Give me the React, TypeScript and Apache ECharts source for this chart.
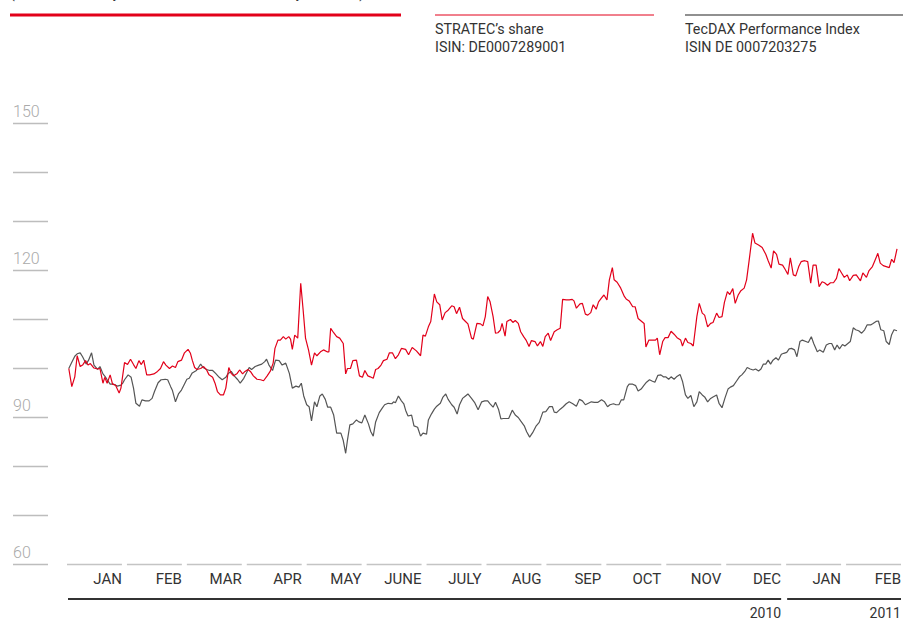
import React, { useEffect, useRef } from 'react';
import * as echarts from 'echarts';

const monthLabels = ['JAN', 'FEB', 'MAR', 'APR', 'MAY', 'JUNE', 'JULY', 'AUG', 'SEP', 'OCT', 'NOV', 'DEC', 'JAN', 'FEB'];
const yearSpans = [
  { label: '2010', from: 0, to: 12 },
  { label: '2011', from: 12, to: 14 },
];
const yTickValues = [60, 70, 80, 90, 100, 110, 120, 130, 140, 150];
const yLabelValues = [150, 120, 90, 60];
const titleText = '(indexed, January 1, 2010 = 100; as of February 28, 2011)';
const legendStratec = ['STRATEC\u2019s share', 'ISIN: DE0007289001'];
const legendTecdax = ['TecDAX Performance Index', 'ISIN DE 0007203275'];

// [month position since Jan 1 2010, index value]
const stratec: [number, number][] = [
  [0.03, 100], [0.08, 96.3], [0.13, 98.3], [0.17, 102.6], [0.22, 100.4], [0.26, 100.7], [0.31, 101.6], [0.35, 100.7], [0.39, 101.0], [0.45, 100.1],
  [0.51, 99.9], [0.55, 100], [0.6, 97], [0.63, 98.2], [0.67, 97], [0.72, 98.7], [0.76, 96.8], [0.81, 96.6], [0.87, 95], [0.9, 96],
  [0.96, 101.2], [1.01, 100.8], [1.06, 101.9], [1.11, 100.8], [1.15, 100], [1.2, 101.6], [1.24, 100.8], [1.28, 101.7], [1.33, 98.7], [1.38, 98.7],
  [1.45, 98.9], [1.51, 99.4], [1.56, 100], [1.61, 101.4], [1.65, 100.7], [1.71, 100], [1.76, 100.5], [1.81, 100.2], [1.85, 101.4], [1.91, 101.7],
  [1.96, 103.2], [2.02, 103.9], [2.06, 103.1], [2.09, 101.7], [2.13, 100.2], [2.17, 99.8], [2.23, 100], [2.28, 100.4], [2.33, 99.7], [2.37, 98.7],
  [2.43, 98.2], [2.47, 97], [2.51, 95.3], [2.56, 94.6], [2.61, 94.6], [2.65, 96], [2.7, 100.2], [2.74, 99], [2.78, 98.5], [2.84, 99],
  [2.88, 99.7], [2.93, 98.9], [2.97, 99.4], [3.02, 99.8], [3.06, 99.4], [3.11, 98.5], [3.17, 97.8], [3.23, 97.7], [3.28, 97.5], [3.34, 98.5],
  [3.39, 99.4], [3.44, 101.1], [3.47, 104.1], [3.52, 105.8], [3.56, 105.8], [3.61, 106.5], [3.65, 106], [3.7, 106.5], [3.73, 106], [3.76, 103.9],
  [3.8, 106.8], [3.85, 106.2], [3.9, 117.4], [3.94, 112], [3.98, 106.2], [4.03, 103.8], [4.08, 100.7], [4.13, 103.2], [4.17, 102.6], [4.23, 103.4],
  [4.28, 103.8], [4.34, 103.4], [4.37, 103.4], [4.4, 108.2], [4.45, 107.3], [4.5, 106.5], [4.55, 106.2], [4.61, 105.1], [4.65, 98.9], [4.68, 100],
  [4.73, 100], [4.77, 101.6], [4.83, 101.7], [4.88, 98.5], [4.93, 98.2], [4.97, 99.6], [5.02, 98.5], [5.06, 98.3], [5.11, 98], [5.15, 99.8],
  [5.19, 100], [5.24, 100.7], [5.28, 101.6], [5.34, 101.9], [5.38, 103.2], [5.43, 103.2], [5.48, 102], [5.53, 102.8], [5.58, 104.1], [5.65, 103.9],
  [5.7, 102.8], [5.76, 104.3], [5.83, 103.6], [5.9, 102.6], [5.94, 106.8], [5.98, 106.6], [6.03, 108.5], [6.07, 109.6], [6.13, 115.2], [6.17, 113.6],
  [6.22, 113], [6.26, 109.9], [6.31, 111.4], [6.36, 111.9], [6.42, 112.8], [6.46, 112.6], [6.5, 111.2], [6.55, 112.5], [6.6, 110.2], [6.65, 109.6],
  [6.69, 109.1], [6.75, 106.2], [6.78, 106], [6.84, 109.2], [6.9, 109.1], [6.94, 108.7], [6.98, 110.6], [7.02, 114.7], [7.06, 113.6], [7.11, 110.6],
  [7.15, 107.2], [7.19, 107.3], [7.23, 107.8], [7.26, 109.2], [7.31, 106.6], [7.34, 109.6], [7.4, 110], [7.44, 109.4], [7.48, 109.8], [7.53, 109.2],
  [7.57, 107.5], [7.62, 106.5], [7.66, 105.8], [7.71, 104.5], [7.75, 105.7], [7.81, 105.5], [7.85, 104.6], [7.9, 105.5], [7.94, 104.5], [7.98, 106.5],
  [8.03, 107.2], [8.07, 105.7], [8.13, 107.5], [8.18, 107.9], [8.23, 108.2], [8.27, 114.1], [8.33, 114], [8.38, 114], [8.43, 114.1], [8.46, 113.8],
  [8.5, 112.3], [8.56, 113.2], [8.6, 113.3], [8.65, 111.1], [8.69, 110.9], [8.74, 111.4], [8.78, 113], [8.83, 112.1], [8.87, 113.6], [8.92, 114.4],
  [8.96, 115], [9.01, 114], [9.05, 118.1], [9.1, 120.6], [9.13, 118.1], [9.18, 117.6], [9.24, 116.4], [9.3, 114.7], [9.33, 114.2], [9.38, 113.8],
  [9.44, 112.6], [9.48, 112.6], [9.53, 110.2], [9.58, 109.7], [9.63, 109.2], [9.66, 104.4], [9.71, 105.8], [9.76, 105.8], [9.82, 105.8], [9.85, 106.2],
  [9.89, 102.8], [9.94, 105.5], [9.98, 106.3], [10.03, 106.3], [10.08, 107.6], [10.13, 107], [10.18, 106.3], [10.24, 105.8], [10.27, 104.6], [10.32, 106.2],
  [10.36, 105.3], [10.41, 105.1], [10.45, 104.6], [10.51, 110.6], [10.55, 113.3], [10.6, 111.3], [10.64, 110.9], [10.69, 108.5], [10.74, 109.2], [10.78, 109.4],
  [10.84, 111.3], [10.88, 110.4], [10.93, 110.6], [10.97, 113.5], [11.02, 115.7], [11.06, 115.1], [11.11, 116.3], [11.15, 113.3], [11.2, 115], [11.24, 115.8],
  [11.3, 116.4], [11.34, 118.1], [11.38, 121.8], [11.44, 127.6], [11.48, 125.6], [11.54, 125.2], [11.6, 124.7], [11.66, 123.3], [11.7, 122], [11.75, 120.5],
  [11.79, 124], [11.84, 123.3], [11.88, 121.3], [11.94, 121.1], [11.98, 120.3], [12.03, 119.2], [12.07, 122.6], [12.12, 119.1], [12.16, 118.9], [12.21, 120.8],
  [12.25, 121.8], [12.31, 122], [12.36, 121.8], [12.41, 117.4], [12.45, 121.1], [12.5, 121.1], [12.55, 116.7], [12.6, 117.7], [12.64, 117.5], [12.69, 117],
  [12.74, 117.5], [12.79, 117.5], [12.84, 118.4], [12.88, 120.4], [12.93, 119.4], [12.97, 118.6], [13.02, 119.1], [13.06, 117.9], [13.12, 119], [13.17, 119.1],
  [13.24, 117.9], [13.28, 119.5], [13.34, 118.6], [13.38, 119.9], [13.44, 120.8], [13.48, 122], [13.53, 123.5], [13.57, 121.5], [13.62, 121], [13.67, 120.8],
  [13.72, 120.6], [13.76, 122.3], [13.8, 121.6], [13.85, 124.4],
];

const tecdax: [number, number][] = [
  [0.03, 100], [0.07, 101], [0.13, 102.5], [0.17, 103], [0.22, 103.2], [0.26, 102.4], [0.32, 100.9], [0.36, 101.7], [0.41, 103.2], [0.45, 100.7],
  [0.51, 99.8], [0.55, 100.4], [0.6, 98.9], [0.64, 98.3], [0.67, 97.7], [0.72, 96.8], [0.78, 96.8], [0.84, 96.4], [0.9, 96.6], [0.93, 97],
  [0.96, 97.7], [1.02, 98.7], [1.07, 98.2], [1.11, 96], [1.15, 92.9], [1.21, 92.3], [1.25, 93.6], [1.31, 93.4], [1.37, 93.4], [1.42, 93.9],
  [1.46, 95.3], [1.52, 97.1], [1.57, 97.7], [1.64, 97.8], [1.68, 97.7], [1.73, 96.3], [1.76, 95.5], [1.81, 93.2], [1.86, 94.8], [1.91, 95.6],
  [1.95, 96.6], [2.0, 97.8], [2.04, 98], [2.09, 99.1], [2.16, 99.6], [2.23, 100.9], [2.27, 100.2], [2.33, 99.8], [2.38, 99.6], [2.43, 99.6],
  [2.48, 99], [2.54, 98.2], [2.59, 97.7], [2.65, 98.2], [2.69, 99], [2.74, 99.4], [2.79, 98.5], [2.85, 97.7], [2.89, 97], [2.95, 98],
  [2.99, 99], [3.04, 100.2], [3.08, 99.8], [3.14, 100.4], [3.2, 100.7], [3.25, 100.9], [3.3, 101.4], [3.33, 101.9], [3.37, 100.7], [3.43, 99.6],
  [3.48, 101.7], [3.54, 101.6], [3.59, 100.7], [3.65, 101.1], [3.71, 99], [3.76, 96], [3.82, 96.4], [3.87, 96.2], [3.91, 97], [3.95, 94.4],
  [4.0, 92.6], [4.04, 92.2], [4.08, 89.3], [4.13, 93.2], [4.17, 92.2], [4.22, 94.4], [4.26, 94.8], [4.31, 93.7], [4.35, 92.1], [4.4, 92.1],
  [4.45, 90.5], [4.5, 86.8], [4.57, 86.8], [4.61, 85.3], [4.65, 82.7], [4.68, 85.4], [4.72, 88.5], [4.77, 88.7], [4.83, 89.5], [4.87, 89.1],
  [4.92, 88.9], [4.97, 90.5], [5.03, 88.7], [5.07, 87.1], [5.11, 86.2], [5.15, 89.1], [5.21, 91], [5.26, 91.9], [5.3, 92.6], [5.36, 92.9],
  [5.42, 92.8], [5.45, 93.2], [5.48, 93], [5.53, 94.4], [5.58, 93.4], [5.62, 92.8], [5.65, 91.5], [5.69, 90.3], [5.75, 90.5], [5.79, 88.3],
  [5.85, 88], [5.9, 86.2], [5.94, 86.8], [6.0, 86.6], [6.03, 89.5], [6.08, 90.7], [6.13, 91.7], [6.17, 92.3], [6.23, 92.9], [6.27, 94.1],
  [6.32, 94.8], [6.36, 93.7], [6.42, 92.6], [6.46, 92.1], [6.51, 90.7], [6.55, 92.6], [6.6, 93.9], [6.65, 94.4], [6.69, 94.8], [6.75, 93.9],
  [6.8, 93.1], [6.86, 91.6], [6.92, 93.2], [6.97, 93.4], [7.02, 93.4], [7.06, 92.8], [7.11, 92.1], [7.15, 93.1], [7.2, 91.7], [7.24, 89.7],
  [7.28, 89.8], [7.33, 89.8], [7.37, 89.8], [7.43, 91.5], [7.48, 90.5], [7.53, 90], [7.57, 89.3], [7.63, 88.3], [7.67, 87.1], [7.72, 86],
  [7.77, 86.9], [7.83, 88.3], [7.88, 89], [7.94, 91.1], [7.99, 91.2], [8.05, 92.2], [8.1, 92.2], [8.13, 91.1], [8.17, 91], [8.23, 91.7],
  [8.28, 92.2], [8.33, 92.8], [8.38, 93.2], [8.44, 92.8], [8.5, 92.3], [8.55, 93.7], [8.6, 93.4], [8.65, 92.6], [8.7, 92.9], [8.75, 93.2],
  [8.8, 93.1], [8.86, 93.1], [8.92, 93.6], [8.97, 93.2], [9.02, 92.2], [9.06, 92.6], [9.12, 92.8], [9.16, 92.6], [9.21, 92.6], [9.25, 93.6],
  [9.29, 93.6], [9.35, 96.3], [9.38, 96.8], [9.44, 96.8], [9.49, 96.5], [9.53, 95.4], [9.58, 95.8], [9.63, 96.6], [9.67, 97.2], [9.72, 97.7],
  [9.77, 97.4], [9.81, 97.2], [9.86, 98.6], [9.91, 98.7], [9.95, 98.3], [9.99, 98.3], [10.04, 97.8], [10.08, 98.3], [10.13, 97.8], [10.17, 98.3],
  [10.23, 98.8], [10.27, 97.4], [10.32, 94.6], [10.36, 93.9], [10.41, 94.5], [10.46, 92.2], [10.51, 93.2], [10.55, 95.3], [10.6, 94.6], [10.64, 94.2],
  [10.69, 93.2], [10.74, 93.9], [10.78, 94.2], [10.84, 94.6], [10.88, 92.9], [10.93, 92], [10.98, 94], [11.03, 95.8], [11.07, 96.2], [11.12, 96.5],
  [11.17, 97.4], [11.22, 98.3], [11.26, 98.7], [11.31, 99.4], [11.35, 100.2], [11.4, 99.9], [11.45, 99.7], [11.49, 99.9], [11.54, 99.5], [11.58, 99.9],
  [11.62, 100.9], [11.66, 100.9], [11.7, 101.7], [11.74, 100.9], [11.78, 101.7], [11.83, 102.2], [11.87, 101.7], [11.92, 102.9], [11.96, 103.1], [12.01, 103.3],
  [12.05, 104], [12.09, 104.1], [12.14, 103.8], [12.18, 102.4], [12.23, 105.5], [12.27, 105.8], [12.33, 105.5], [12.37, 105.3], [12.42, 106.5], [12.46, 105.1],
  [12.52, 103.4], [12.56, 103.8], [12.62, 103.3], [12.67, 104.8], [12.72, 105.1], [12.76, 105.1], [12.81, 103.8], [12.85, 104.8], [12.89, 104], [12.94, 104.9],
  [12.98, 104.6], [13.03, 105.1], [13.07, 105.5], [13.12, 108.3], [13.16, 107.9], [13.21, 107.7], [13.26, 107.2], [13.31, 107.9], [13.35, 108.9], [13.41, 108.9],
  [13.45, 109.2], [13.5, 109.6], [13.54, 109.7], [13.58, 107.9], [13.63, 107.7], [13.67, 105.5], [13.72, 104.9], [13.76, 106.9], [13.8, 107.9], [13.85, 107.7],
];

const RED = '#e2001a';
const DARK = '#555555';
const FONT = 'Roboto, "Noto Sans", sans-serif';

export default function App() {
  const ref = useRef<HTMLDivElement>(null);

  useEffect(() => {
    if (!ref.current) return;
    const chart = echarts.init(ref.current, undefined, { renderer: 'svg' });

    const option: any = {
      animation: false,
      backgroundColor: '#ffffff',
      textStyle: { fontFamily: FONT },
      grid: { left: 67, right: 0, top: 123.5, bottom: 56.5, containLabel: false },
      xAxis: {
        type: 'value',
        min: 0,
        max: 14,
        interval: 1,
        axisLine: { show: false },
        axisTick: { show: false },
        axisLabel: { show: false },
        splitLine: { show: false },
      },
      yAxis: {
        type: 'value',
        min: 60,
        max: 150,
        interval: 10,
        offset: 19,
        axisLine: { show: false },
        splitLine: { show: false },
        axisTick: { show: false },
        axisLabel: {
          show: true,
          margin: 35,
          align: 'left',
          verticalAlign: 'bottom',
          padding: [0, 0, 4, 0],
          color: '#aaaaaa',
          fontSize: 16,
          fontWeight: 300,
          fontFamily: FONT,
          formatter: (v: number) => (yLabelValues.includes(v) ? String(v) : ''),
        },
      },
      graphic: [
        {
          type: 'text',
          left: 10,
          top: -14.5,
          style: { text: titleText, fill: '#333', fontSize: 14, fontFamily: FONT },
        },
        {
          type: 'line',
          shape: { x1: 10, y1: 15, x2: 401, y2: 15 },
          style: { stroke: RED, lineWidth: 3 },
        },
        {
          type: 'line',
          shape: { x1: 435, y1: 15, x2: 654, y2: 15 },
          style: { stroke: RED, lineWidth: 1 },
        },
        {
          type: 'line',
          shape: { x1: 685, y1: 15, x2: 903, y2: 15 },
          style: { stroke: '#222', lineWidth: 1.2 },
        },
        {
          type: 'text',
          x: 435,
          y: 20,
          style: { text: legendStratec.join('\n'), fill: '#333', fontSize: 14.3, lineHeight: 18, fontFamily: FONT },
        },
        {
          type: 'text',
          x: 685,
          y: 20,
          style: { text: legendTecdax.join('\n'), fill: '#333', fontSize: 14.3, lineHeight: 18, fontFamily: FONT },
        },
      ],
      series: [
        {
          type: 'custom',
          name: 'yticks',
          clip: false,
          silent: true,
          data: yTickValues.map((v) => [0, v]),
          renderItem: (params: any, api: any) => {
            const p = api.coord([api.value(0), api.value(1)]);
            return {
              type: 'line',
              shape: { x1: p[0] - 54, y1: p[1], x2: p[0] - 19, y2: p[1] },
              style: { stroke: '#bdbdbd', lineWidth: 1.5 },
            };
          },
        },
        {
          type: 'custom',
          name: 'months',
          clip: false,
          silent: true,
          data: monthLabels.map((_, i) => [i]),
          renderItem: (params: any, api: any) => {
            const i = api.value(0);
            const a = api.coord([i, 60]);
            const b = api.coord([i + 1, 60]);
            return {
              type: 'group',
              children: [
                {
                  type: 'line',
                  shape: { x1: a[0], y1: a[1], x2: b[0] - 5, y2: a[1] },
                  style: { stroke: '#c4c4c4', lineWidth: 1.5 },
                },
                {
                  type: 'text',
                  style: {
                    text: monthLabels[i],
                    x: b[0] - 5,
                    y: a[1] + 14,
                    align: 'right',
                    verticalAlign: 'middle',
                    fill: '#333',
                    fontSize: 15,
                    fontFamily: FONT,
                  },
                },
              ],
            };
          },
        },
        {
          type: 'custom',
          name: 'years',
          clip: false,
          silent: true,
          data: yearSpans.map((s) => [s.from, s.to]),
          renderItem: (params: any, api: any) => {
            const a = api.coord([api.value(0), 60]);
            const b = api.coord([api.value(1), 60]);
            const label = yearSpans[params.dataIndex].label;
            return {
              type: 'group',
              children: [
                {
                  type: 'line',
                  shape: { x1: a[0] + 1, y1: a[1] + 34.5, x2: b[0] - 5, y2: a[1] + 34.5 },
                  style: { stroke: '#333', lineWidth: 2 },
                },
                {
                  type: 'text',
                  style: {
                    text: label,
                    x: b[0] - 5,
                    y: a[1] + 48,
                    align: 'right',
                    verticalAlign: 'middle',
                    fill: '#333',
                    fontSize: 14,
                    fontFamily: FONT,
                  },
                },
              ],
            };
          },
        },
        {
          type: 'line',
          name: 'TecDAX Performance Index',
          data: tecdax,
          showSymbol: false,
          symbol: 'none',
          lineStyle: { color: DARK, width: 1.2 },
          z: 3,
        },
        {
          type: 'line',
          name: 'STRATEC share',
          data: stratec,
          showSymbol: false,
          symbol: 'none',
          lineStyle: { color: RED, width: 1.2 },
          z: 4,
        },
      ],
    };

    chart.setOption(option);
    return () => chart.dispose();
  }, []);

  return (
    <div
      ref={ref}
      style={{ position: 'absolute', left: 0, top: 0, width: 906, height: 621, background: '#fff' }}
    />
  );
}
